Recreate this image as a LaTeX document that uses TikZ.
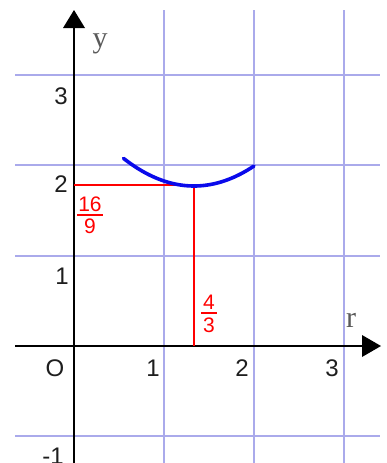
\documentclass[tikz,border=0pt]{standalone}
\usepackage{fontspec}
\setmainfont{Liberation Sans}
\newfontfamily\axfont{Liberation Serif}
\begin{document}
\begin{tikzpicture}[x=1pt,y=-1pt,
  gridline/.style={draw={rgb,255:red,170;green,170;blue,235},line width=1.8pt},
  axisline/.style={draw=black,line width=1.6pt},
  tip/.style={fill=black,draw=none},
  ticklab/.style={inner sep=0pt,text={rgb,255:red,30;green,30;blue,30},font=\fontsize{24}{24}\selectfont},
  axlab/.style={inner sep=0pt,text={rgb,255:red,90;green,90;blue,90},font=\axfont\fontsize{30}{30}\selectfont},
  redline/.style={draw=red,line width=1.3pt},
  redlab/.style={inner sep=0pt,text=red,font=\fontsize{21}{21}\selectfont},
  curve/.style={draw={rgb,255:red,10;green,10;blue,235},line width=3.6pt}]
\useasboundingbox (0,0) rectangle (387,463);
\fill[white] (0,0) rectangle (387,463);
\clip (0,0) rectangle (387,463);
% grid
\foreach \gx in {164,254,344} \draw[gridline] (\gx,10) -- (\gx,463);
\foreach \gy in {75,165,256,436} \draw[gridline] (15,\gy) -- (380,\gy);
% axes
\coordinate (ybot) at (74,463);
\coordinate (ytop) at (74,22);
\coordinate (xleft) at (15,346);
\coordinate (xright) at (368,346);
\draw[axisline] (ybot) -- (ytop);
\draw[axisline] (xleft) -- (xright);
\fill[tip] (74,10) -- (85,28) -- (63,28) -- cycle;
\fill[tip] (381,346) -- (362,335) -- (362,357) -- cycle;
% red guide lines
\coordinate (ry) at (74,185);
\coordinate (rc) at (194,185);
\coordinate (rx) at (194,346);
\draw[redline] (ry) -- (rc) -- (rx);
% curve
\draw[curve,line cap=round,smooth] plot[domain=0.55:2,samples=60]
  ({74+90*\x},{346-90*((\x-4/3)*(\x-4/3)/2+16/9)});
% axis labels
\node[axlab] (ylab) at (100,44) {y};
\node[axlab] (rlab) at (351,320) {r};
% tick labels
\node[ticklab] (t3) at (61,96) {3};
\node[ticklab] (t2) at (61,184) {2};
\node[ticklab] (t1) at (62,276) {1};
\node[ticklab] (tm1) at (53,456) {-1};
\node[ticklab] (tO) at (55,368) {O};
\node[ticklab] (x1) at (153,368) {1};
\node[ticklab] (x2) at (242,368) {2};
\node[ticklab] (x3) at (332,368) {3};
% fractions
\node[redlab] (n16) at (90,204) {16};
\draw[red,line width=1.2pt] (77,215) -- (103,215);
\node[redlab] (n9) at (90,226) {9};
\node[redlab] (n4) at (209,302) {4};
\draw[red,line width=1.2pt] (201,313) -- (217,313);
\node[redlab] (n3) at (209,325) {3};
\end{tikzpicture}
\end{document}
